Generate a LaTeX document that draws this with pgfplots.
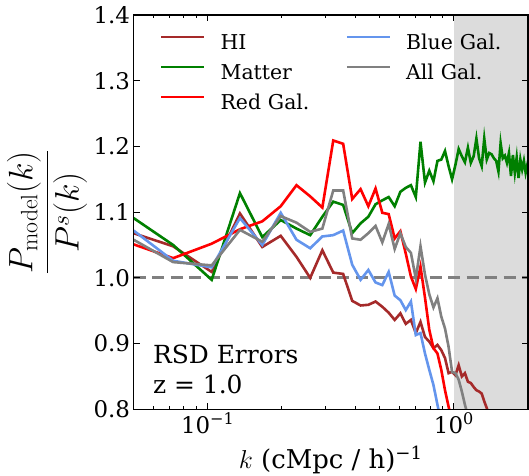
\RequirePackage{fix-cm}
\documentclass[border=0pt]{standalone}
\usepackage[no-math]{fontspec}
\setmainfont{DejaVu Serif}
\usepackage{pgfplots}
\usepackage{pgfplotstable}
\pgfplotsset{compat=1.18}
\definecolor{hibrown}{HTML}{A52A2A}
\definecolor{mgreen}{HTML}{008000}
\definecolor{rred}{HTML}{FF0000}
\definecolor{cblue}{HTML}{6495ED}
\definecolor{mgray}{HTML}{808080}
\definecolor{shade}{HTML}{DCDCDC}

\pgfplotstableread{
k v
0.05 1.068
0.0724 1.048
0.1038 1.009
0.1352 1.098
0.1666 1.047
0.1980 1.064
0.2294 1.032
0.2608 1.000
0.2922 1.042
0.3236 1.008
0.3550 1.006
0.3864 0.965
0.4178 0.958
0.4492 0.959
0.4806 0.964
0.5120 0.956
0.5434 0.947
0.5748 0.936
0.6062 0.946
0.6376 0.930
0.6690 0.936
0.7004 0.916
0.7318 0.933
0.7632 0.910
0.7946 0.903
0.8260 0.893
0.8574 0.898
0.8888 0.890
0.9202 0.878
0.9516 0.855
0.9830 0.857
1.0144 0.852
1.0458 0.867
1.0772 0.850
1.1086 0.855
1.1400 0.842
1.1714 0.840
1.2028 0.834
1.2342 0.829
1.2656 0.827
1.2970 0.824
1.3284 0.812
1.3598 0.802
1.3912 0.790
}\hi

\pgfplotstableread{
k v
0.05 1.091
0.0724 1.050
0.1038 0.997
0.1352 1.129
0.1666 1.062
0.1980 1.088
0.2294 1.075
0.2608 1.065
0.2922 1.093
0.3236 1.116
0.3550 1.111
0.3864 1.068
0.4178 1.083
0.4492 1.093
0.4806 1.112
0.5120 1.118
0.5434 1.123
0.5748 1.109
0.6062 1.131
0.6376 1.137
0.6690 1.141
0.7004 1.123
0.7318 1.207
0.7632 1.145
0.7946 1.163
0.8260 1.147
0.8574 1.178
0.8888 1.180
0.9202 1.193
0.9516 1.170
0.9830 1.150
1.0144 1.172
1.0458 1.196
1.0772 1.185
1.1086 1.176
1.1400 1.198
1.1714 1.175
1.2028 1.185
1.2342 1.212
1.2656 1.182
1.2970 1.170
1.3284 1.212
1.3598 1.180
1.3912 1.190
1.4226 1.188
1.4540 1.182
1.4854 1.178
1.5168 1.162
1.5482 1.205
1.5796 1.182
1.6110 1.186
1.6424 1.175
1.6738 1.190
1.7052 1.155
1.7366 1.187
1.7680 1.160
1.7994 1.183
1.8308 1.152
1.8622 1.180
1.8936 1.165
1.9250 1.178
1.9564 1.160
1.9878 1.172
2.0192 1.165
}\matter

\pgfplotstableread{
k v
0.05 1.051
0.0724 1.030
0.1038 1.052
0.1352 1.074
0.1666 1.086
0.1980 1.109
0.2294 1.141
0.2608 1.124
0.2922 1.107
0.3236 1.209
0.3550 1.204
0.3864 1.120
0.4178 1.135
0.4492 1.109
0.4806 1.136
0.5120 1.099
0.5434 1.097
0.5748 1.060
0.6062 1.071
0.6376 1.037
0.6690 1.002
0.7004 0.983
0.7318 1.017
0.7632 0.970
0.7946 0.921
0.8260 0.893
0.8574 0.885
0.8888 0.860
0.9202 0.829
0.9516 0.804
0.9830 0.780
}\redgal

\pgfplotstableread{
k v
0.05 1.072
0.0724 1.026
0.1038 1.016
0.1352 1.091
0.1666 1.050
0.1980 1.099
0.2294 1.058
0.2608 1.045
0.2922 1.063
0.3236 1.065
0.3550 1.072
0.3864 1.020
0.4178 0.997
0.4492 1.012
0.4806 0.993
0.5120 0.989
0.5434 1.009
0.5748 0.973
0.6062 0.966
0.6376 0.951
0.6690 0.964
0.7004 0.913
0.7318 0.916
0.7632 0.885
0.7946 0.860
0.8260 0.837
0.8574 0.807
0.8888 0.780
}\bluegal

\pgfplotstableread{
k v
0.05 1.058
0.0724 1.024
0.1038 1.019
0.1352 1.073
0.1666 1.055
0.1980 1.094
0.2294 1.084
0.2608 1.070
0.2922 1.075
0.3236 1.133
0.3550 1.133
0.3864 1.060
0.4178 1.058
0.4492 1.068
0.4806 1.079
0.5120 1.054
0.5434 1.082
0.5748 1.044
0.6062 1.068
0.6376 1.047
0.6690 1.038
0.7004 0.999
0.7318 1.048
0.7632 1.005
0.7946 0.975
0.8260 0.955
0.8574 0.969
0.8888 0.941
0.9202 0.923
0.9516 0.895
0.9830 0.857
1.0144 0.855
1.0458 0.845
1.0772 0.827
1.1086 0.807
1.1400 0.790
}\allgal

\begin{document}
\begin{tikzpicture}
\begin{axis}[
  scale only axis,
  width=394.4bp, height=394.3bp,
  xmode=log,
  xmin=0.05, xmax=2,
  ymin=0.8, ymax=1.4,
  axis on top,
  axis line style={line width=1.1bp},
  tick align=inside,
  major tick length=6bp,
  minor tick length=3.3bp,
  every tick/.style={black, line width=1bp},
  xtick={0.1,1},
  xticklabels={10\textsuperscript{−1},10\textsuperscript{0}},
  minor xtick={0.05,0.06,0.07,0.08,0.09,0.2,0.3,0.4,0.5,0.6,0.7,0.8,0.9},
  ytick={0.8,0.9,1.0,1.1,1.2,1.3,1.4},
  yminorticks=false,
  /pgf/number format/assume math mode=true,
  yticklabel style={/pgf/number format/.cd, fixed, fixed zerofill, precision=1},
  ticklabel style={font=\fontsize{23}{27}\selectfont},
  xlabel={$k$ (cMpc / h)\textsuperscript{−1}},
  ylabel={$\displaystyle\frac{P_{\rm model}(k)}{P^{s}(k)}$},
  label style={font=\fontsize{26}{30}\selectfont},
  ylabel style={font=\fontsize{34}{40}\selectfont},
  xlabel style={at={(axis description cs:0.5,-0.1514)}, anchor=base},
  ylabel style={at={(axis description cs:-0.2196,0.5)}, anchor=center},
  legend columns=2,
  legend image code/.code={\draw[#1] (0bp,7.2bp) -- (43bp,7.2bp);},
  legend style={at={(axis description cs:0,1)}, anchor=north west,
    xshift=26.4bp, yshift=-19.2bp, draw=none, fill=none, inner sep=0pt, outer sep=0pt,
    column sep=15bp, row sep=10bp,
    font=\fontsize{20.5}{24}\selectfont,
    nodes={inner sep=0pt, text height=15bp, text depth=5bp, text width=110bp, align=left}},
  legend cell align=left,
]
\addplot[fill=shade, draw=none, forget plot] coordinates {(1,0.8) (1,1.4) (2.1,1.4) (2.1,0.8)} -- cycle;
\addplot[mgray, line width=2.8bp, dash pattern=on 12bp off 6.5bp, forget plot] coordinates {(0.05,1) (2,1)};
\addplot[hibrown, line width=2.6bp, forget plot] table[x=k,y=v] {\hi};
\addplot[mgreen, line width=2.6bp, forget plot] table[x=k,y=v] {\matter};
\addplot[rred, line width=2.6bp, forget plot] table[x=k,y=v] {\redgal};
\addplot[cblue, line width=2.6bp, forget plot] table[x=k,y=v] {\bluegal};
\addplot[mgray, line width=2.6bp, forget plot] table[x=k,y=v] {\allgal};
\addlegendimage{hibrown, line width=2.6bp}
\addlegendentry{HI}
\addlegendimage{cblue, line width=2.6bp}
\addlegendentry{Blue Gal.}
\addlegendimage{mgreen, line width=2.6bp}
\addlegendentry{Matter}
\addlegendimage{mgray, line width=2.6bp}
\addlegendentry{All Gal.}
\addlegendimage{rred, line width=2.6bp}
\addlegendentry{Red Gal.}
\node[anchor=base west, inner sep=0pt, font=\fontsize{25}{30}\selectfont] at (axis description cs:0.049,0.1174) {RSD Errors};
\node[anchor=base west, inner sep=0pt, font=\fontsize{25}{30}\selectfont] at (axis description cs:0.049,0.0413) {z = 1.0};
\end{axis}
\pgfresetboundingbox
\path (-133.6bp,-66.7bp) rectangle (395.4bp,409.3bp);
\end{tikzpicture}
\end{document}
